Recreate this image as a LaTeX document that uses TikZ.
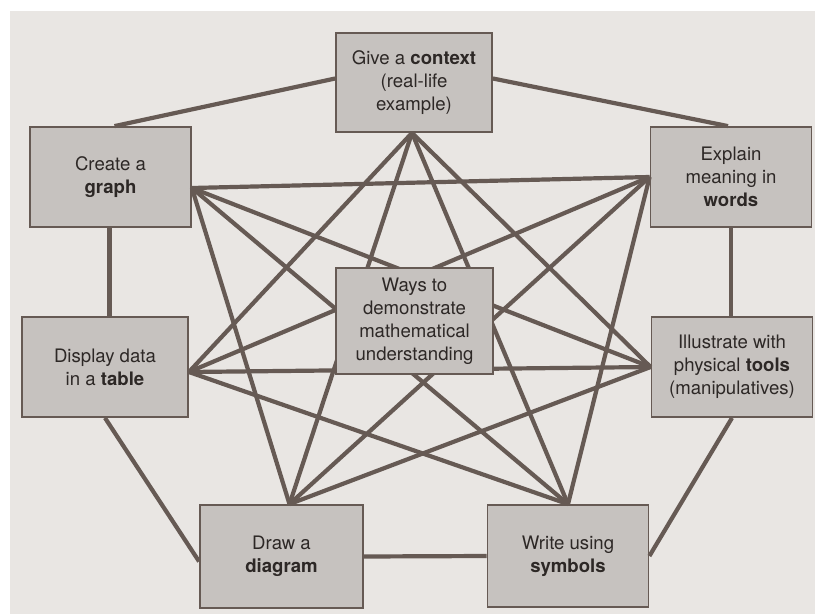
\documentclass[tikz,border=0pt]{standalone}
\usepackage{fontspec}
\setmainfont{TeX Gyre Heros}
\usetikzlibrary{positioning, calc}
\definecolor{pageGray}{RGB}{233, 230, 227}
\definecolor{boxGray}{RGB}{198, 194, 191}
\definecolor{edgeBrown}{RGB}{102, 90, 84}
\definecolor{inkDark}{RGB}{45, 40, 38}

\begin{document}
\begin{tikzpicture}[
    x=1pt, y=-1pt,
    box/.style={rectangle, draw=edgeBrown, fill=boxGray, line width=1.8pt, align=center, minimum width=161pt, minimum height=100pt, inner sep=2pt, text=inkDark, font=\fontsize{18.6}{23}\selectfont},
    link/.style={line width=4.2pt, edgeBrown}
]

% Page of the photo
\useasboundingbox (0,0) rectangle (815,614);
\fill[white] (0,0) rectangle (815,614);
\fill[pageGray] (10,11) rectangle (815,614);

% Outer ring of boxes
\node[box, minimum width=156pt, minimum height=99pt] (context) at (414, 82.5) {Give a \textbf{context}\\(real-life\\example)};
\node[box] (graph)   at (110.5, 177) {Create a\\\textbf{graph}};
\node[box] (words)   at (731, 177)   {Explain\\meaning in\\\textbf{words}};
\node[box, minimum width=166pt] (table) at (105, 367) {Display data\\in a \textbf{table}};
\node[box] (tools)   at (732, 367)   {Illustrate with\\physical \textbf{tools}\\(manipulatives)};
\node[box, minimum width=163pt, minimum height=103pt] (diagram) at (281.5, 556.5) {Draw a\\\textbf{diagram}};
\node[box, minimum height=102pt] (symbols) at (568, 556) {Write using\\\textbf{symbols}};

% Points where the inner lines meet each box
\coordinate (contextHub) at ([xshift=-2pt]context.south);
\coordinate (graphHub)   at ([yshift=-11pt]graph.east);
\coordinate (wordsHub)   at (words.west);
\coordinate (tableHub)   at ([yshift=-5pt]table.east);
\coordinate (toolsHub)   at (tools.west);
\coordinate (diagramHub) at ([xshift=8pt]diagram.north);
\coordinate (symbolsHub) at (symbols.north);

% Ring
\draw[link] ([yshift=4pt]context.west) -- ([xshift=4pt]graph.north);
\draw[link] ([yshift=4pt]context.east) -- ([xshift=-3pt]words.north);
\draw[link] ([xshift=-1pt]graph.south) -- ([xshift=-1pt]graph.south |- table.north);
\draw[link] (words.south) -- (words.south |- tools.north);
\draw[link] (table.south) -- ([yshift=-5pt]diagram.west);
\draw[link] (tools.south) -- (symbols.east);
\draw[link] (diagram.east) -- (symbols.west);

% Inner star
\draw[link] (contextHub) -- (tableHub);
\draw[link] (contextHub) -- (toolsHub);
\draw[link] (contextHub) -- (diagramHub);
\draw[link] (contextHub) -- (symbolsHub);
\draw[link] (graphHub) -- (wordsHub);
\draw[link] (graphHub) -- (toolsHub);
\draw[link] (graphHub) -- (diagramHub);
\draw[link] (graphHub) -- (symbolsHub);
\draw[link] (wordsHub) -- (tableHub);
\draw[link] (wordsHub) -- (diagramHub);
\draw[link] (wordsHub) -- (symbolsHub);
\draw[link] (tableHub) -- (toolsHub);
\draw[link] (tableHub) -- (symbolsHub);
\draw[link] (toolsHub) -- (diagramHub);

% Centre box on top of the lines
\node[box, minimum width=157pt, minimum height=106pt] (ways) at (414.5, 321) {Ways to\\demonstrate\\mathematical\\understanding};

\end{tikzpicture}
\end{document}
